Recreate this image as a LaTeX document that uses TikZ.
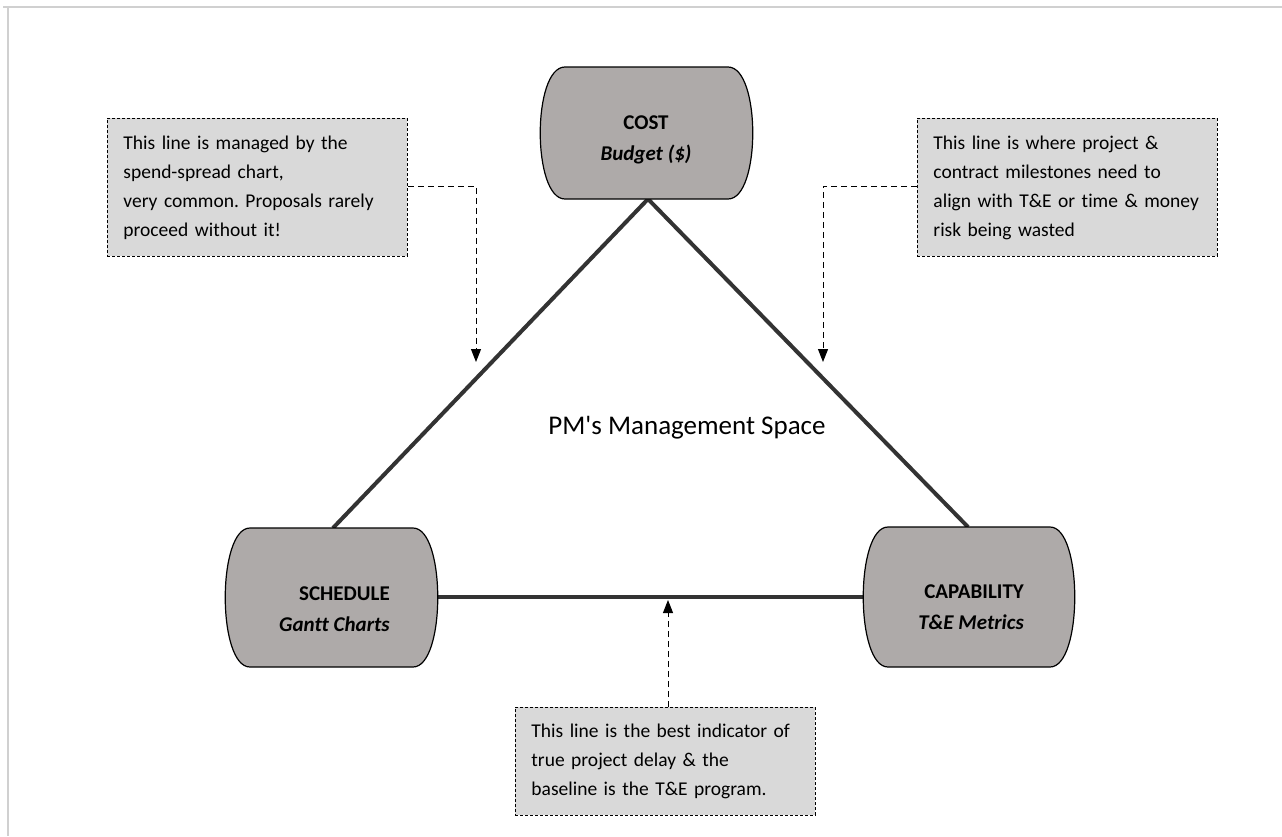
\documentclass[tikz,border=0pt]{standalone}
\usepackage{fontspec}
\setmainfont{Carlito}[Ligatures={TeXOff,NoCommon}]
\usetikzlibrary{arrows.meta}
\frenchspacing
\definecolor{nodegray}{HTML}{AEAAA9}
\definecolor{boxgray}{HTML}{D9D9D9}
\definecolor{linedark}{HTML}{333333}
\definecolor{framegray}{HTML}{D0D0D0}
\newcommand{\blobpath}[4]{%
  \filldraw[blobstyle] ({#1+25},#2) -- ({#3-25},#2)
    .. controls ({#3+8},#2) and ({#3+8},#4) .. ({#3-25},#4)
    -- ({#1+25},#4)
    .. controls ({#1-8},#4) and ({#1-8},#2) .. ({#1+25},#2) -- cycle;}
\tikzset{
  blobstyle/.style={fill=nodegray, draw=black, line width=1.2pt},
  tri/.style={draw=linedark, line width=4pt},
  notebox/.style={draw=black, dashed, dash pattern=on 3pt off 2pt, line width=0.9pt,
    fill=boxgray, text width=268pt, align=left, inner xsep=16pt, inner ysep=4pt,
    font=\fontsize{19.5}{29}\selectfont, anchor=north west},
  callout/.style={draw=black, dash pattern=on 6pt off 4pt, line width=1pt,
    -{Triangle[length=13pt,width=10pt]}},
  lbl/.style={font=\fontsize{21}{31}\selectfont\bfseries, inner sep=0pt}
}
\begin{document}
\begin{tikzpicture}[x=1pt,y=-1pt]
\useasboundingbox (0,0) rectangle (1282,836);
\fill[white] (0,0) rectangle (1282,836);
\draw[framegray, line width=2.5pt] (3,7) -- (1282,7);
\draw[framegray, line width=2.5pt] (8,7) -- (8,836);
% triangle corners
\coordinate (costb) at (648,199);
\coordinate (schedt) at (333,528);
\coordinate (capt) at (968,527);
\coordinate (schedr) at (437,597);
\coordinate (capl) at (864,597);
\draw[tri] (costb) -- (schedt);
\draw[tri] (costb) -- (capt);
\draw[tri] (schedr) -- (capl);
% shapes
\blobpath{540}{67}{753}{199}
\blobpath{225}{528}{438}{667}
\blobpath{863}{527}{1075}{667}
% labels
\node[lbl, align=center] (cost) at (646,140) {COST\\\textit{Budget (\$)}};
\node[lbl, align=right, anchor=east] (sched) at (390,609) {SCHEDULE\\\textit{Gantt Charts}};
\node[lbl, align=right, anchor=east] (capab) at (1024,607) {CAPABILITY\\\textit{T\&E Metrics}};
\node[font=\fontsize{27}{32}\selectfont, inner sep=0pt] (space) at (687,428) {PM's Management Space};
% note boxes
\node[notebox, minimum width=300pt, minimum height=138pt] (noteL) at (107,118)
  {This line is managed by the\\spend-spread chart,\\very common. Proposals rarely\\proceed without it!};
\node[notebox, minimum width=300pt, minimum height=138pt] (noteR) at (917,118)
  {This line is where project \&\\contract milestones need to\\align with T\&E or time \& money\\risk being wasted};
\node[notebox, minimum width=300pt, minimum height=108pt] (noteB) at (515,707)
  {This line is the best indicator of\\true project delay \& the\\baseline is the T\&E program.};
% callout arrows
\coordinate (tipL) at (476,362);
\coordinate (tipR) at (823,362);
\coordinate (tipB) at (668,600);
\draw[callout] (noteL.east |- 0,186) -| (tipL);
\draw[callout] (noteR.west |- 0,186) -| (tipR);
\draw[callout] (noteB.north -| tipB) -- (tipB);
\end{tikzpicture}
\end{document}
